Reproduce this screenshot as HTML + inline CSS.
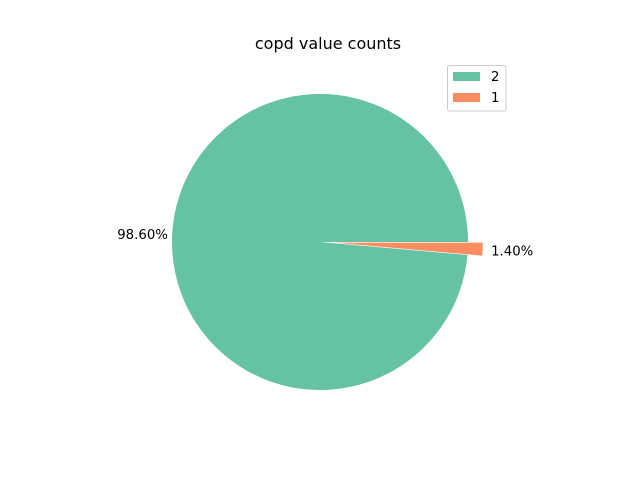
<!DOCTYPE html>
<html><head><meta charset="utf-8"><style>
body{margin:0;background:#fff}
svg{display:block;font-family:"DejaVu Sans","Liberation Sans",sans-serif}
</style></head><body>
<svg id="chart" width="640" height="480">
<rect width="640" height="480" fill="#fff"/>
<text x="328" y="49" font-size="16" text-anchor="middle">copd value counts</text>
<g id="slices"></g>
<g>
<rect x="447.5" y="65.5" width="58.5" height="45.5" rx="2" fill="#fff" stroke="#ccc" stroke-width="1"/>
<rect x="453" y="72" width="27" height="9" fill="#66c2a5"/>
<text x="491" y="81" font-size="13.3">2</text>
<rect x="453" y="93" width="27" height="9" fill="#fc8d62"/>
<text x="491" y="102" font-size="13.3">1</text>
</g>
</svg>
<script>
const categories = ["2", "1"];
const values = [98.6, 1.4];
const colors = ["#66c2a5", "#fc8d62"];
const explode = [0, 0.1];
const cx = 320, cy = 242, r = 148;
const g = document.getElementById('slices');
const NS = "http://www.w3.org/2000/svg";
const total = values.reduce((a, b) => a + b, 0);
let start = 0;
values.forEach((v, i) => {
  const frac = v / total;
  const a0 = start * 2 * Math.PI, a1 = (start + frac) * 2 * Math.PI;
  const mid = (a0 + a1) / 2;
  const ox = cx + explode[i] * r * Math.cos(mid), oy = cy - explode[i] * r * Math.sin(mid);
  const x0 = ox + r * Math.cos(a0), y0 = oy - r * Math.sin(a0);
  const x1 = ox + r * Math.cos(a1), y1 = oy - r * Math.sin(a1);
  const large = frac > 0.5 ? 1 : 0;
  const p = document.createElementNS(NS, 'path');
  p.setAttribute('d', `M${ox},${oy} L${x0},${y0} A${r},${r} 0 ${large} 0 ${x1},${y1} Z`);
  p.setAttribute('fill', colors[i]);
  
  
  g.appendChild(p);
  const t = document.createElementNS(NS, 'text');
  t.setAttribute('x', ox + 1.2 * r * Math.cos(mid));
  t.setAttribute('y', oy - 1.2 * r * Math.sin(mid) + 5);
  t.setAttribute('font-size', '13.3');
  t.setAttribute('text-anchor', 'middle');
  t.textContent = (frac * 100).toFixed(2) + '%';
  
  
  g.appendChild(t);
  start += frac;
});
</script>
</body></html>
